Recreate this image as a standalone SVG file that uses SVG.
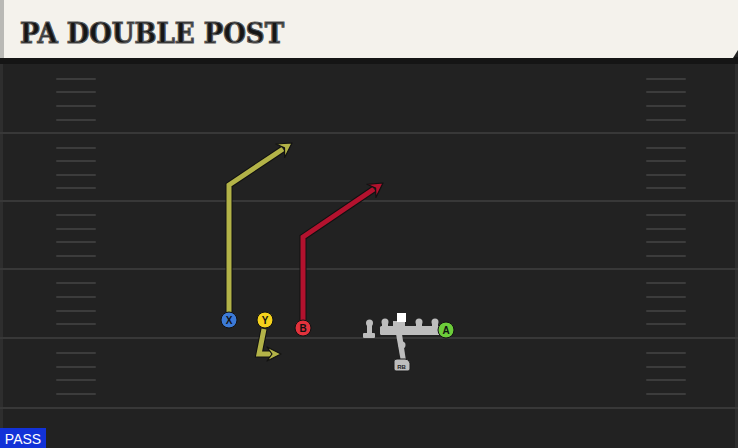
<svg xmlns="http://www.w3.org/2000/svg" width="738" height="448" viewBox="0 0 738 448">
<defs>
<style>
.yard{stroke:#383838;stroke-width:2}
.hash{stroke:#3c3c3c;stroke-width:2;stroke-linecap:round}
.route{fill:none;stroke-width:5;stroke-linejoin:miter;stroke-linecap:butt}
.out{fill:none;stroke:#111;stroke-width:7;stroke-linejoin:miter}
.head{stroke:#111;stroke-width:1.2;stroke-linejoin:round}
.lbl{font-family:"Liberation Sans",Arial,sans-serif;font-weight:bold;font-size:10px;text-anchor:middle;fill:#111}
.ol{fill:#bdbdbd}
</style>
</defs>
<rect x="0" y="0" width="738" height="448" fill="#222222"/>
<rect x="0" y="60" width="3" height="388" fill="#2e2e2e"/>
<rect x="735" y="60" width="3" height="388" fill="#2e2e2e"/>
<g id="field">
<line class="yard" x1="0" y1="133" x2="738" y2="133"/>
<line class="yard" x1="0" y1="201" x2="738" y2="201"/>
<line class="yard" x1="0" y1="269" x2="738" y2="269"/>
<line class="yard" x1="0" y1="338" x2="738" y2="338"/>
<line class="yard" x1="0" y1="408" x2="738" y2="408"/>
<g id="hashL">
<line class="hash" x1="57" y1="79" x2="95" y2="79"/><line class="hash" x1="57" y1="92" x2="95" y2="92"/><line class="hash" x1="57" y1="106" x2="95" y2="106"/><line class="hash" x1="57" y1="120" x2="95" y2="120"/>
<line class="hash" x1="57" y1="148" x2="95" y2="148"/><line class="hash" x1="57" y1="161" x2="95" y2="161"/><line class="hash" x1="57" y1="175" x2="95" y2="175"/><line class="hash" x1="57" y1="188" x2="95" y2="188"/>
<line class="hash" x1="57" y1="215" x2="95" y2="215"/><line class="hash" x1="57" y1="229" x2="95" y2="229"/><line class="hash" x1="57" y1="242" x2="95" y2="242"/><line class="hash" x1="57" y1="256" x2="95" y2="256"/>
<line class="hash" x1="57" y1="283" x2="95" y2="283"/><line class="hash" x1="57" y1="297" x2="95" y2="297"/><line class="hash" x1="57" y1="311" x2="95" y2="311"/><line class="hash" x1="57" y1="324" x2="95" y2="324"/>
<line class="hash" x1="57" y1="353" x2="95" y2="353"/><line class="hash" x1="57" y1="367" x2="95" y2="367"/><line class="hash" x1="57" y1="380" x2="95" y2="380"/><line class="hash" x1="57" y1="394" x2="95" y2="394"/>
</g>
<g id="hashR">
<line class="hash" x1="647" y1="79" x2="685" y2="79"/><line class="hash" x1="647" y1="92" x2="685" y2="92"/><line class="hash" x1="647" y1="106" x2="685" y2="106"/><line class="hash" x1="647" y1="120" x2="685" y2="120"/>
<line class="hash" x1="647" y1="148" x2="685" y2="148"/><line class="hash" x1="647" y1="161" x2="685" y2="161"/><line class="hash" x1="647" y1="175" x2="685" y2="175"/><line class="hash" x1="647" y1="188" x2="685" y2="188"/>
<line class="hash" x1="647" y1="215" x2="685" y2="215"/><line class="hash" x1="647" y1="229" x2="685" y2="229"/><line class="hash" x1="647" y1="242" x2="685" y2="242"/><line class="hash" x1="647" y1="256" x2="685" y2="256"/>
<line class="hash" x1="647" y1="283" x2="685" y2="283"/><line class="hash" x1="647" y1="297" x2="685" y2="297"/><line class="hash" x1="647" y1="311" x2="685" y2="311"/><line class="hash" x1="647" y1="324" x2="685" y2="324"/>
<line class="hash" x1="647" y1="353" x2="685" y2="353"/><line class="hash" x1="647" y1="367" x2="685" y2="367"/><line class="hash" x1="647" y1="380" x2="685" y2="380"/><line class="hash" x1="647" y1="394" x2="685" y2="394"/>
</g>
</g>
<g id="header">
<rect x="0" y="57" width="738" height="7" fill="#151515"/>
<path d="M0,0 H738 V50 L733,58 H0 Z" fill="#f4f2ec"/>
<rect x="0" y="0" width="4" height="58" fill="#b9b9b5"/>
<text x="20" y="43" font-family="'DejaVu Serif','Liberation Serif',serif" font-weight="bold" font-stretch="condensed" font-size="28" textLength="264" lengthAdjust="spacingAndGlyphs" fill="#151515" stroke="#555" stroke-width="1.2">PA DOUBLE POST</text>
</g>
<g id="connectors">
<path class="out" d="M229,312 V185 L283,149"/>
<path class="route" stroke="#b3b348" d="M229,312 V185 L283,149"/>
<path class="head" fill="#b3b348" d="M292,143 L275.9,144 L284.5,147.9 L284.7,157.4 Z"/>
<path class="out" d="M264,329 L259,354 H271"/>
<path class="route" stroke="#b3b348" d="M264,329 L259,354 H271"/>
<path class="head" fill="#b3b348" d="M281,354 L267,347 L272,354 L267,361 Z"/>
<path class="out" d="M303,320 V237 L374,189"/>
<path class="route" stroke="#b3122e" d="M303,320 V237 L374,189"/>
<path class="head" fill="#b3122e" d="M383,183 L366.9,184.3 L375.6,188.1 L375.9,197.5 Z"/>
</g>
<g id="oline">
<path class="ol" d="M396,334 L401,362 L406,361 L402,334 Z"/>
<circle class="ol" cx="402" cy="345" r="3.5"/>
<rect class="ol" x="380" y="326" width="61" height="9" rx="1.5"/>
<rect class="ol" x="382" y="322" width="6" height="6"/>
<rect class="ol" x="416" y="322" width="6" height="6"/>
<rect class="ol" x="432" y="322" width="6" height="6"/>
<circle class="ol" cx="385" cy="322" r="3.5"/>
<circle class="ol" cx="419" cy="322" r="3.5"/>
<circle class="ol" cx="435" cy="322" r="3.5"/>
<rect class="ol" x="367" y="322" width="5" height="14"/>
<rect class="ol" x="363" y="333" width="12" height="5" rx="1"/>
<circle class="ol" cx="369.5" cy="323" r="3.5"/>
<rect class="ol" x="393" y="321" width="12" height="7"/>
</g>
<g id="C"><rect x="397" y="313" width="9" height="9" fill="#ffffff"/></g>
<g id="RB">
<path d="M394,361 Q394,359 397,359 H405 Q409,359 410,363 V369 Q410,371 408,371 H396 Q394,371 394,369 Z" fill="#bdbdbd" stroke="#1a1a1a" stroke-width="1"/>
<text x="401.5" y="368.5" font-family="'Liberation Sans',Arial,sans-serif" font-weight="bold" font-size="6" text-anchor="middle" fill="#222">RB</text>
</g>
<g id="X">
<circle cx="229" cy="320" r="8" fill="#3c7ad6" stroke="#111" stroke-width="1"/>
<text class="lbl" x="229" y="324">X</text>
</g>
<g id="Y">
<circle cx="265" cy="320" r="8" fill="#f5d21c" stroke="#111" stroke-width="1"/>
<text class="lbl" x="265" y="324">Y</text>
</g>
<g id="B">
<circle cx="303" cy="328" r="8" fill="#e2323c" stroke="#111" stroke-width="1"/>
<text class="lbl" x="303" y="332">B</text>
</g>
<g id="A">
<circle cx="446" cy="330" r="8" fill="#6ccc3a" stroke="#111" stroke-width="1"/>
<text class="lbl" x="446" y="334">A</text>
</g>
<g id="pass">
<rect x="0" y="428" width="46" height="20" fill="#1232d8"/>
<text x="23" y="444" font-family="'Liberation Sans',Arial,sans-serif" font-size="14" text-anchor="middle" fill="#ffffff">PASS</text>
</g>
</svg>
